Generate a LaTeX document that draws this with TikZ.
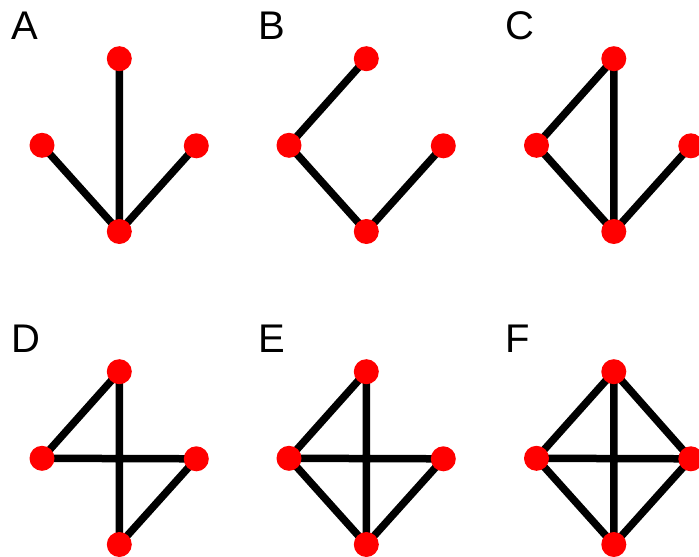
\documentclass[tikz,border=0pt]{standalone}
\usepackage{fontspec}
\setmainfont{Liberation Sans}
\begin{document}
\begin{tikzpicture}[x=1pt,y=-1pt,
  vtx/.style={circle,fill=red,draw=none,minimum size=25pt,inner sep=0pt},
  edge/.style={line width=7.5pt,black},
  lbl/.style={anchor=base west,inner sep=0pt,font=\fontsize{40pt}{40pt}\selectfont}]
\useasboundingbox (0,0) rectangle (699,557);
% positions
\foreach \nm/\dx/\dy in {A/0/0, B/247/0, C/494.5/0, D/0/313, E/247/313, F/494.5/313}{
  \coordinate (\nm t) at (119.3+\dx, 58.7+\dy);
  \coordinate (\nm l) at (42+\dx, 145.3+\dy);
  \coordinate (\nm r) at (196.3+\dx, 145.8+\dy);
  \coordinate (\nm b) at (119.3+\dx, 231.5+\dy);
  \node[lbl] (\nm lab) at (11+\dx, 39+\dy) {\nm};
}
% edges
\draw[edge] (At) -- (Ab) (Al) -- (Ab) (Ar) -- (Ab);
\draw[edge] (Bt) -- (Bl) (Bl) -- (Bb) (Bb) -- (Br);
\draw[edge] (Ct) -- (Cl) (Ct) -- (Cb) (Cl) -- (Cb) (Cb) -- (Cr);
\draw[edge] (Dt) -- (Dl) (Dt) -- (Db) (Dl) -- (Dr) (Dr) -- (Db);
\draw[edge] (Et) -- (El) (Et) -- (Eb) (El) -- (Er) (El) -- (Eb) (Er) -- (Eb);
\draw[edge] (Ft) -- (Fl) (Ft) -- (Fr) (Ft) -- (Fb) (Fl) -- (Fr) (Fl) -- (Fb) (Fr) -- (Fb);
% vertices
\foreach \nm in {A,B,C,D,E,F}{
  \foreach \p in {t,l,r,b}{
    \node[vtx] (\nm\p n) at (\nm\p) {};
  }
}
\end{tikzpicture}
\end{document}
